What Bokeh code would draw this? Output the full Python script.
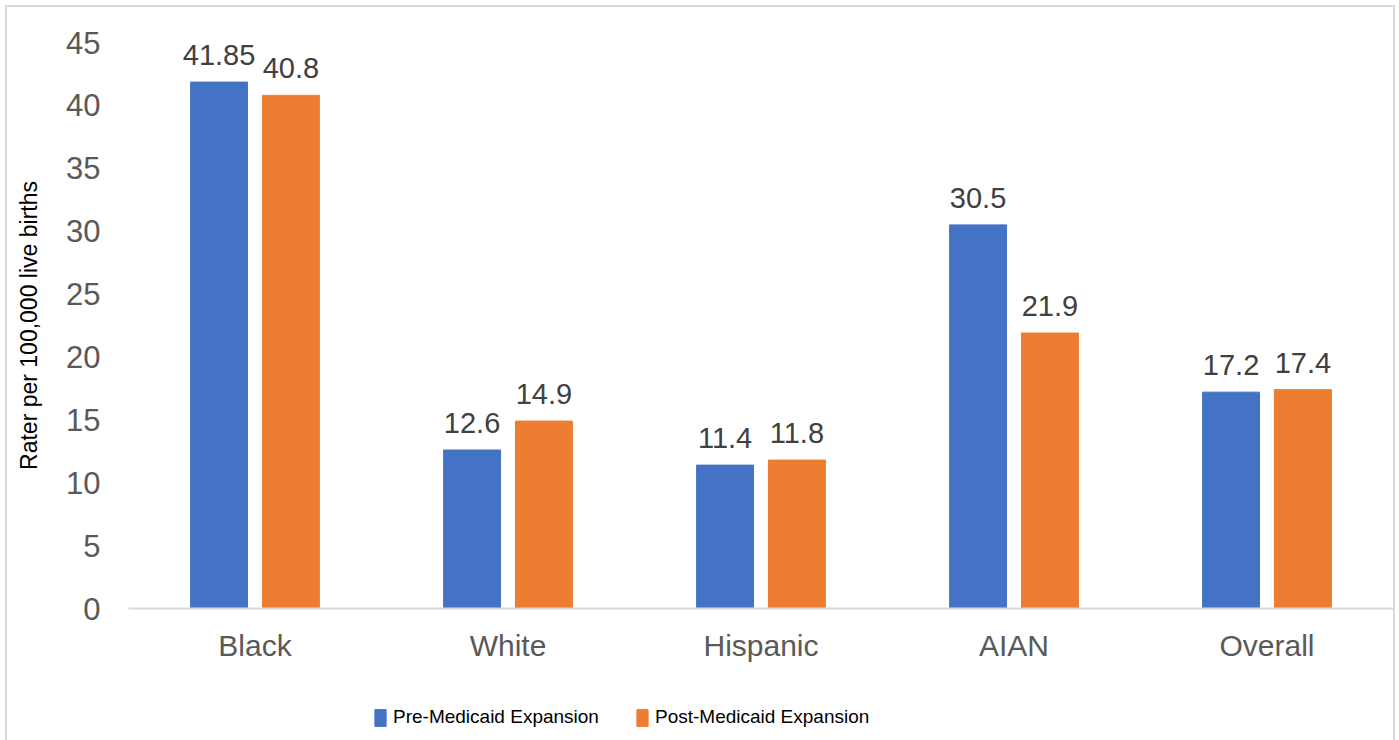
from bokeh.plotting import figure
from bokeh.layouts import column
from bokeh.models import (ColumnDataSource, FixedTicker, LabelSet, Legend, LegendItem, Range1d)
from bokeh.core.properties import value
from bokeh.transform import dodge
from bokeh.embed import file_html
from bokeh.resources import INLINE

categories = ["Black", "White", "Hispanic", "AIAN", "Overall"]
pre_values = [41.85, 12.6, 11.4, 30.5, 17.2]
post_values = [40.8, 14.9, 11.8, 21.9, 17.4]
pre_labels = ["41.85", "12.6", "11.4", "30.5", "17.2"]
post_labels = ["40.8", "14.9", "11.8", "21.9", "17.4"]
series_names = ["Pre-Medicaid Expansion", "Post-Medicaid Expansion"]
y_ticks = [0, 5, 10, 15, 20, 25, 30, 35, 40, 45]
y_title = "Rater per 100,000 live births"

FONT = "Liberation Sans"
BLUE = "#4472C4"
ORANGE = "#ED7D31"

src = ColumnDataSource(dict(cat=categories, pre=pre_values, post=post_values,
                            pre_lab=pre_labels, post_lab=post_labels))

MAIN_H = 670
p = figure(x_range=categories, y_range=Range1d(0, 45), width=1399, height=MAIN_H,
           output_backend="svg", toolbar_location=None,
           min_border_left=128, min_border_right=6, min_border_top=42,
           min_border_bottom=MAIN_H - 608)
p.outline_line_color = None
p.xgrid.grid_line_color = None
p.ygrid.grid_line_color = None
p.x_range.range_padding = 0
p.border_fill_color = None
p.background_fill_color = None

r_pre = p.vbar(x=dodge("cat", -0.142, range=p.x_range), top="pre", width=0.225,
               source=src, color=BLUE)
r_post = p.vbar(x=dodge("cat", 0.142, range=p.x_range), top="post", width=0.225,
                source=src, color=ORANGE)

for col, lab, off in (("pre", "pre_lab", -0.142), ("post", "post_lab", 0.142)):
    p.add_layout(LabelSet(x=dodge("cat", off, range=p.x_range), y=col, text=lab, source=src,
                          text_align="center", text_baseline="alphabetic", y_offset=17,
                          text_font=value(FONT), text_font_size="29px",
                          text_color="#404040"))

# y axis
p.yaxis.ticker = FixedTicker(ticks=y_ticks)
p.yaxis.axis_line_color = None
p.yaxis.major_tick_line_color = None
p.yaxis.minor_tick_line_color = None
p.yaxis.major_tick_out = 0
p.yaxis.minor_tick_out = 0
p.yaxis.major_label_text_font = FONT
p.yaxis.major_label_text_font_size = "31px"
p.yaxis.major_label_text_color = "#595959"
p.yaxis.major_label_standoff = 28
p.yaxis.axis_label = y_title
p.yaxis.axis_label_text_font = FONT
p.yaxis.axis_label_text_font_size = "23px"
p.yaxis.axis_label_text_font_style = "normal"
p.yaxis.axis_label_text_color = "#000000"
p.yaxis.axis_label_standoff = 21

# x axis
p.xaxis.axis_line_color = "#d9d9d9"
p.xaxis.axis_line_width = 2
p.xaxis.major_tick_line_color = None
p.xaxis.minor_tick_line_color = None
p.xaxis.major_tick_out = 0
p.xaxis.minor_tick_out = 0
p.xaxis.major_label_text_font = FONT
p.xaxis.major_label_text_font_size = "30px"
p.xaxis.major_label_text_color = "#595959"
p.xaxis.major_label_standoff = 20

# legend strip (its own small figure; bars there fall outside its range)
LEG_H = 740 - MAIN_H
p2 = figure(x_range=p.x_range, y_range=Range1d(100, 200), width=1399, height=LEG_H,
            output_backend="svg", toolbar_location=None, x_axis_type=None, y_axis_type=None,
            min_border=0)
p2.outline_line_color = None
p2.grid.grid_line_color = None
p2.border_fill_color = None
p2.background_fill_color = None
l_pre = p2.vbar(x="cat", top="pre", width=0.2, source=src, color=BLUE)
l_post = p2.vbar(x="cat", top="post", width=0.2, source=src, color=ORANGE)

legend = Legend(items=[LegendItem(label=series_names[0], renderers=[l_pre]),
                       LegendItem(label=series_names[1], renderers=[l_post])],
                location=(245, 12), orientation="horizontal",
                glyph_width=14, glyph_height=21, label_standoff=6, spacing=36,
                padding=0, margin=0, border_line_color=None, background_fill_alpha=0,
                label_text_font=FONT,
                label_text_font_size="19px", label_text_color="#000000", label_height=21)
p2.add_layout(legend)

line = "linear-gradient(#d9d9d9, #d9d9d9)"
layout = column(p, p2, spacing=0, styles={
    "background": (f"{line} left 5px top 5px / 2px 100% no-repeat, "
                   f"{line} left 5px top 5px / calc(100% - 10px) 2px no-repeat, "
                   f"{line} right 4px top 5px / 2px 100% no-repeat, #ffffff"),
})

open("out.html", "w").write(file_html(layout, INLINE))
